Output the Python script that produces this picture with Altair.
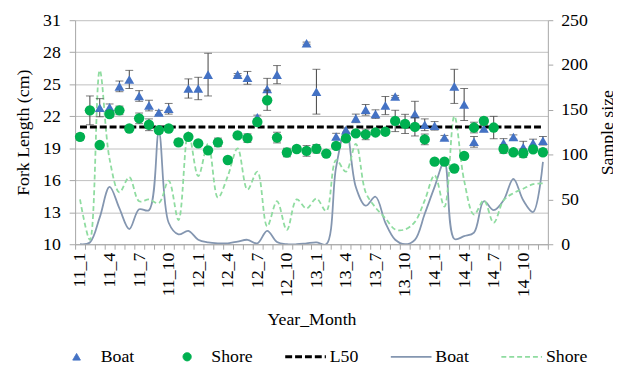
import altair as alt
import pandas as pd

months = [
    "11_1", "11_2", "11_3", "11_4", "11_5", "11_6", "11_7", "11_8", "11_9", "11_10", "11_11", "11_12",
    "12_1", "12_2", "12_3", "12_4", "12_5", "12_6", "12_7", "12_8", "12_9", "12_10", "12_11", "12_12",
    "13_1", "13_2", "13_3", "13_4", "13_5", "13_6", "13_7", "13_8", "13_9", "13_10", "13_11", "13_12",
    "14_1", "14_2", "14_3", "14_4", "14_5", "14_6", "14_7", "14_8", "14_9", "14_10", "14_11", "14_12",
]
tick_labels = ["11_1", "11_4", "11_7", "11_10", "12_1", "12_4", "12_7", "12_10",
               "13_1", "13_4", "13_7", "13_10", "14_1", "14_4", "14_7", "14_10"]

# Fork length (cm): mean and half error-bar
boat_fl = [None, None, 22.8, 22.85, 24.8, 25.45, 23.9, 23.0, 22.35, 22.7, None, 24.6,
           24.6, 25.9, None, None, 25.9, 25.6, 21.9, 24.55, 25.9, None, None, 28.85,
           24.3, None, 20.1, 20.7, 21.8, 22.6, 22.2, 23.0, 23.85, None, 22.2, 21.2,
           21.1, 20.0, 24.8, 23.1, 19.6, 20.85, None, 19.5, 20.05, 19.1, 19.5, 19.7]
boat_err = [None, None, 0.85, 0.3, 0.5, 0.85, 0.5, 0.5, 0.2, 0.5, None, 0.9,
            1.05, 2.0, None, None, 0.1, 0.6, 0.2, 1.0, 0.85, None, None, 0.1,
            2.1, None, 0.3, 0.2, 0.4, 0.5, 0.4, 0.85, 0.1, None, 1.2, 0.55,
            0.4, 0.2, 1.6, 1.5, 0.5, 0.3, None, 0.4, 0.2, 0.55, 0.35, 0.4]
shore_fl = [20.07, 22.55, 19.3, 22.2, 22.55, 20.85, 21.8, 21.2, 20.7, 20.85, 19.55, 20.07,
            19.45, 18.8, 19.55, 17.9, 20.2, 19.95, 21.46, 23.5, 20.0, 18.6, 18.93, 18.75,
            18.95, 18.5, 19.22, 19.92, 20.4, 20.3, 20.48, 20.55, 21.56, 21.28, 21.0, 19.83,
            17.74, 17.74, 17.1, 18.28, 20.94, 21.56, 20.94, 18.93, 18.62, 18.53, 18.9, 18.62]
shore_err = [0.3, 1.35, 0.1, 0.3, 0.4, 0.2, 0.5, 0.55, 0.3, 0.2, 0.3, 0.2,
             0.2, 0.2, 0.4, 0.1, 0.2, 0.4, 0.1, 0.95, 0.5, 0.4, 0.2, 0.5,
             0.4, 0.1, 0.2, 0.2, 0.2, 0.5, 0.2, 0.2, 1.0, 0.9, 0.85, 0.5,
             0.1, 0.1, 0.1, 0.2, 0.5, 0.3, 1.05, 0.4, 0.2, 0.4, 0.2, 0.3]
l50_value = 21.0

# Sample sizes
boat_n = [0, 2, 30, 64, 40, 17, 39, 38, 125, 24, 11, 15,
          5, 2, 1, 1, 3, 5, 1, 15, 2.5, 0, 0, 1,
          2, 0, 86, 130, 64, 43, 53, 24, 5, 0, 5, 34,
          64, 92, 6, 9, 13, 48, 38, 49, 73, 49, 36, 92]
shore_n = [50, 5, 194, 95, 58, 75, 48, 50, 46, 71, 27, 125,
           76, 112, 52, 76, 107, 61, 81, 20, 48, 16, 50, 40,
           51, 37, 94, 81, 112, 58, 41, 29, 16.5, 16.5, 25, 49,
           77, 42, 143, 71, 33, 49, 24, 49, 57, 62, 67, 68]

legend_names = ["Boat", "Shore", "L50", "Boat ", "Shore "]

BLUE = "#4472C4"
GREEN = "#00B050"
BOAT_LINE = "#8496B0"
SHORE_LINE = "#8FDCA0"
FONT = "Liberation Serif, Times New Roman, serif"

def fl_frame(means, errs):
    rows = []
    for m, v, e in zip(months, means, errs):
        if v is None:
            continue
        e = e or 0.0
        rows.append({"month": m, "fl": v, "lo": v - e, "hi": v + e})
    return pd.DataFrame(rows)

boat_df = fl_frame(boat_fl, boat_err)
shore_df = fl_frame(shore_fl, shore_err)
l50_df = pd.DataFrame({"month": months, "fl": [l50_value] * len(months)})
n_df = pd.DataFrame({"month": months, "boat": boat_n, "shore": shore_n})
leg_df = pd.DataFrame({"month": [months[0]] * 5, "n": [None] * 5, "series": legend_names})

label_expr = ("indexof([" + ",".join("'%s'" % t for t in tick_labels) +
              "], datum.value) >= 0 ? datum.value : ''")

x_enc = alt.X(
    "month:N",
    sort=months,
    scale=alt.Scale(type="band", domain=months, paddingInner=0, paddingOuter=0),
    axis=alt.Axis(
        title="Year_Month", labelExpr=label_expr, labelAngle=270, tickBand="extent",
        labelFont=FONT, labelFontSize=18, labelColor="black", labelPadding=3,
        titleFont=FONT, titleFontSize=18, titleFontWeight="normal", titleColor="black",
        titlePadding=14, tickColor="#A6A6A6", tickSize=5, domainColor="#A6A6A6",
        grid=False, labelOverlap=False,
    ),
)

left_scale = alt.Scale(domain=[10, 31], nice=False, zero=False)
left_axis = alt.Axis(
    orient="left", values=[10, 13, 16, 19, 22, 25, 28, 31], title="Fork Length (cm)",
    labelFont=FONT, labelFontSize=18, labelColor="black", labelPadding=9,
    titleFont=FONT, titleFontSize=18, titleFontWeight="normal", titleColor="black",
    titlePadding=10, tickColor="#A6A6A6", tickSize=6, domainColor="#A6A6A6",
    grid=True, gridColor="#BFBFBF", gridWidth=1,
)
right_scale = alt.Scale(domain=[0, 250], nice=False, zero=True)
right_axis = alt.Axis(
    orient="right", values=[0, 50, 100, 150, 200, 250], title="Sample size",
    labelFont=FONT, labelFontSize=18, labelColor="black", labelPadding=8,
    titleFont=FONT, titleFontSize=18, titleFontWeight="normal", titleColor="black",
    titleAngle=270, titleBaseline="top", titlePadding=11, tickColor="#A6A6A6", tickSize=5,
    domainColor="#A6A6A6", grid=False,
)

# right axis group: sample-size lines + legend carrier
boat_line = alt.Chart(n_df).mark_line(
    interpolate="catmull-rom", color=BOAT_LINE, strokeWidth=1.8, clip=True
).encode(x=x_enc, y=alt.Y("boat:Q", scale=right_scale, axis=right_axis))
shore_line = alt.Chart(n_df).mark_line(
    interpolate="catmull-rom", color=SHORE_LINE, strokeWidth=1.8, strokeDash=[5, 3], clip=True
).encode(x=x_enc, y=alt.Y("shore:Q", scale=right_scale, axis=right_axis))

leg = alt.Chart(leg_df).mark_point(opacity=1).encode(
    x=x_enc,
    y=alt.Y("n:Q", scale=right_scale, axis=right_axis),
    shape=alt.Shape("series:N", scale=alt.Scale(domain=legend_names,
                    range=["triangle-up", "circle", "stroke", "stroke", "stroke"]), legend=alt.Legend(title=None)),
    fill=alt.Fill("series:N", scale=alt.Scale(domain=legend_names,
                  range=[BLUE, GREEN, "transparent", "transparent", "transparent"]), legend=alt.Legend(title=None)),
    stroke=alt.Stroke("series:N", scale=alt.Scale(domain=legend_names,
                      range=[BLUE, GREEN, "black", BOAT_LINE, SHORE_LINE]), legend=alt.Legend(title=None)),
    strokeDash=alt.StrokeDash("series:N", scale=alt.Scale(domain=legend_names,
                              range=[[1, 0], [1, 0], [7, 3], [1, 0], [5, 3]]), legend=alt.Legend(title=None)),
    size=alt.Size("series:N", scale=alt.Scale(type="ordinal", domain=legend_names,
                  range=[60, 70, 1700, 1700, 1700]), legend=alt.Legend(title=None)),
    strokeWidth=alt.StrokeWidth("series:N", scale=alt.Scale(type="ordinal", domain=legend_names,
                                range=[1, 1, 3, 1.8, 1.8]), legend=alt.Legend(title=None)),
)
right_group = alt.layer(boat_line, shore_line, leg)

# left axis group
l50 = alt.Chart(l50_df).mark_line(color="black", strokeWidth=3, strokeDash=[7, 3]).encode(
    x=x_enc, y=alt.Y("fl:Q", scale=left_scale, axis=left_axis))

def err_layers(df):
    rule = alt.Chart(df).mark_rule(color="#404040", strokeWidth=1).encode(
        x=x_enc, y=alt.Y("lo:Q", scale=left_scale, axis=left_axis), y2="hi:Q")
    cap_lo = alt.Chart(df).mark_tick(color="#404040", size=8, thickness=1).encode(
        x=x_enc, y=alt.Y("lo:Q", scale=left_scale, axis=left_axis))
    cap_hi = alt.Chart(df).mark_tick(color="#404040", size=8, thickness=1).encode(
        x=x_enc, y=alt.Y("hi:Q", scale=left_scale, axis=left_axis))
    return [rule, cap_lo, cap_hi]

boat_pts = alt.Chart(boat_df).mark_point(
    shape="triangle-up", filled=True, size=100, color=BLUE, opacity=1).encode(
    x=x_enc, y=alt.Y("fl:Q", scale=left_scale, axis=left_axis))
shore_pts = alt.Chart(shore_df).mark_circle(size=110, color=GREEN, opacity=1).encode(
    x=x_enc, y=alt.Y("fl:Q", scale=left_scale, axis=left_axis))

left_group = alt.layer(l50, *err_layers(boat_df), boat_pts, *err_layers(shore_df), shore_pts)

chart = alt.layer(right_group, left_group).resolve_scale(y="independent").properties(
    width=479, height=227,
    autosize=alt.AutoSizeParams(type="none"),
    padding={"left": 68, "top": 10, "right": 66, "bottom": 123},
    background="white",
).configure_view(stroke=None).configure_legend(
    orient="none", legendX=-21, legendY=331, direction="horizontal", columns=5,
    labelFont=FONT, labelFontSize=18, labelColor="black", labelOffset=2,
    columnPadding=31, padding=0, symbolStrokeWidth=2, clipHeight=20,
)

chart.save("out.html", embed_options={"renderer": "svg", "actions": False})
